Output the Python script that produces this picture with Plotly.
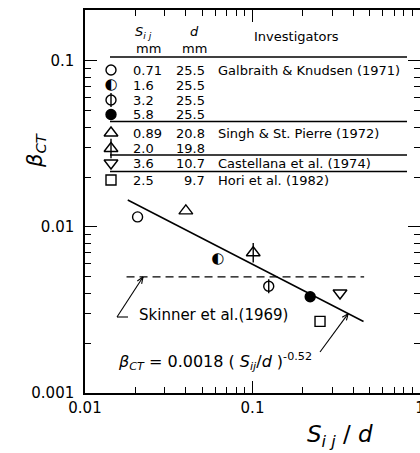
import math
import plotly.graph_objects as go

# ---------------- data ----------------
s_ij_mm = ["0.71", "1.6", "3.2", "5.8", "0.89", "2.0", "3.6", "2.5"]
d_mm = ["25.5", "25.5", "25.5", "25.5", "20.8", "19.8", "10.7", "9.7"]
investigators = ["Galbraith & Knudsen (1971)", "", "", "",
                 "Singh & St. Pierre (1972)", "",
                 "Castellana et al. (1974)", "Hori et al. (1982)"]
s_over_d = [0.0206, 0.062, 0.125, 0.221, 0.040, 0.101, 0.333, 0.253]
beta_ct = [0.0115, 0.0064, 0.0044, 0.0038, 0.0125, 0.0070, 0.0040, 0.0027]

fit_coef = 0.0018
fit_exp = -0.52
fit_x = [0.018, 0.46]
skinner_beta = 0.005
skinner_x = [0.0177, 0.464]

x_tick_vals = [0.01, 0.1, 1]
x_tick_text = ["0.01", "0.1", "1"]
y_tick_vals = [0.001, 0.01, 0.1]
y_tick_text = ["0.001", "0.01", "0.1"]

# ---------------- geometry (page pixels; body margin removed via post_script) ----------------
FIG_W, FIG_H = 420, 453
M_L, M_R, M_T, M_B = 85, 0, 10, 60
X_RANGE = [-2, 0]
Y_RANGE = [-3, -0.693]
PL, PR = M_L, FIG_W - M_R
PT, PB = M_T, FIG_H - M_B


def to_px(x, y):
    px = PL + (math.log10(x) - X_RANGE[0]) / (X_RANGE[1] - X_RANGE[0]) * (PR - PL)
    py = PB - (math.log10(y) - Y_RANGE[0]) / (Y_RANGE[1] - Y_RANGE[0]) * (PB - PT)
    return px, py


def to_paper(px, py):
    return (px - PL) / (PR - PL), (PB - py) / (PB - PT)


# ---------------- styles ----------------
FONT = "DejaVu Sans"
BLACK = "black"
styles = [
    dict(symbol="circle-open", size=10),
    dict(glyph="\u25D0", size=15),
    dict(symbol="circle-open", size=10, bar=10),
    dict(symbol="circle", size=10),
    dict(symbol="triangle-up-open", size=12),
    dict(symbol="triangle-up-open", size=12, bar=14),
    dict(symbol="triangle-down-open", size=12),
    dict(symbol="square-open", size=10),
]

fig = go.Figure()


def add_mark(x, y, st, xa="x", ya="y"):
    if "glyph" in st:
        fig.add_trace(go.Scatter(x=x, y=y, mode="text", text=[st["glyph"]] * len(x),
                                 textposition="middle center",
                                 textfont=dict(family=FONT, size=st["size"], color=BLACK),
                                 xaxis=xa, yaxis=ya, showlegend=False, hoverinfo="skip"))
        return
    fig.add_trace(go.Scatter(x=x, y=y, mode="markers",
                             marker=dict(symbol=st["symbol"], size=st["size"], color=BLACK,
                                         line=dict(color=BLACK, width=1.4)),
                             xaxis=xa, yaxis=ya, showlegend=False, hoverinfo="skip"))
    if st.get("bar"):
        fig.add_trace(go.Scatter(x=x, y=y, mode="markers",
                                 marker=dict(symbol="line-ns-open", size=st["bar"], color=BLACK,
                                             line=dict(color=BLACK, width=1.4)),
                                 xaxis=xa, yaxis=ya, showlegend=False, hoverinfo="skip"))


# fitted line
fig.add_trace(go.Scatter(x=fit_x, y=[fit_coef * v ** fit_exp for v in fit_x], mode="lines",
                         line=dict(color=BLACK, width=1.5), showlegend=False, hoverinfo="skip"))
# Skinner et al. line
fig.add_trace(go.Scatter(x=skinner_x, y=[skinner_beta] * 2, mode="lines",
                         line=dict(color=BLACK, width=1.3, dash="8px,5px"),
                         showlegend=False, hoverinfo="skip"))

for i, st in enumerate(styles):
    add_mark([s_over_d[i]], [beta_ct[i]], st)

# ---------------- legend table (page-pixel overlay axes) ----------------
row_y = [70, 85, 100, 114.5, 133, 148.5, 163, 180]
sym_x, sij_x, d_x, inv_x = 111, 131, 207, 216
rule_y = [57, 121.5, 155, 171.5]
rule_x = [110, 407]

for i, st in enumerate(styles):
    add_mark([sym_x], [row_y[i]], st, "x2", "y2")

annotations = []
tfont = dict(family=FONT, size=13, color=BLACK)
for i in range(len(s_ij_mm)):
    annotations.append(dict(x=sij_x, y=row_y[i], xref="x2", yref="y2", text=s_ij_mm[i],
                            showarrow=False, xanchor="left", yanchor="middle", font=tfont))
    annotations.append(dict(x=d_x, y=row_y[i], xref="x2", yref="y2", text=d_mm[i],
                            showarrow=False, xanchor="right", yanchor="middle", font=tfont))
    if investigators[i]:
        annotations.append(dict(x=inv_x, y=row_y[i], xref="x2", yref="y2", text=investigators[i],
                                showarrow=False, xanchor="left", yanchor="middle", font=tfont))
# header
annotations += [
    dict(x=143, y=32, xref="x2", yref="y2", text="<i>S</i><sub><i>i j</i></sub>", showarrow=False, font=tfont),
    dict(x=148, y=48, xref="x2", yref="y2", text="mm", showarrow=False, font=tfont),
    dict(x=194, y=31, xref="x2", yref="y2", text="<i>d</i>", showarrow=False, font=tfont),
    dict(x=194, y=48, xref="x2", yref="y2", text="mm", showarrow=False, font=tfont),
    dict(x=296, y=36, xref="x2", yref="y2", text="Investigators", showarrow=False, font=tfont),
]

shapes = [dict(type="line", xref="x2", yref="y2", x0=rule_x[0], x1=rule_x[1], y0=ry, y1=ry,
               line=dict(color=BLACK, width=1.3)) for ry in rule_y]


def leader(tail, tip, hook=None):
    """Line with an open V arrowhead at tip (page-pixel coordinates)."""
    out = [dict(type="line", xref="x2", yref="y2", x0=tail[0], y0=tail[1], x1=tip[0], y1=tip[1],
                line=dict(color=BLACK, width=1.1))]
    ang = math.atan2(tail[1] - tip[1], tail[0] - tip[0])
    for da in (0.38, -0.38):
        out.append(dict(type="line", xref="x2", yref="y2", x0=tip[0], y0=tip[1],
                        x1=tip[0] + 7 * math.cos(ang + da), y1=tip[1] + 7 * math.sin(ang + da),
                        line=dict(color=BLACK, width=1.1)))
    if hook:
        out.append(dict(type="line", xref="x2", yref="y2", x0=tail[0], y0=tail[1],
                        x1=tail[0] + hook, y1=tail[1], line=dict(color=BLACK, width=1.1)))
    return out


# Skinner label and leader
annotations.append(dict(x=137, y=315, xref="x2", yref="y2", text="Skinner et al.(1969)",
                        showarrow=False, xanchor="left", yanchor="middle",
                        font=dict(family=FONT, size=15, color=BLACK)))
shapes += leader((117, 317), to_px(0.0222, skinner_beta), hook=11)

# equation and leader
annotations.append(dict(x=116, y=361, xref="x2", yref="y2",
                        text="<i>β</i><sub><i>CT</i></sub> = 0.0018 ( <i>S</i><sub><i>ij</i></sub>/<i>d</i> )<sup>-0.52</sup>",
                        showarrow=False, xanchor="left", yanchor="middle",
                        font=dict(family=FONT, size=16, color=BLACK)))
tip_x = 0.3726
shapes += leader((320, 352), to_px(tip_x, fit_coef * tip_x ** fit_exp))

# axis titles
yt = to_paper(36, 150)
annotations.append(dict(x=yt[0], y=yt[1], xref="paper", yref="paper",
                        text="<i>β</i><sub><i>CT</i></sub>", textangle=-90, showarrow=False,
                        xanchor="center", yanchor="middle",
                        font=dict(family=FONT, size=21, color=BLACK)))
xt = to_paper(340, 436)
annotations.append(dict(x=xt[0], y=xt[1], xref="paper", yref="paper",
                        text="<i>S</i><sub><i>i j</i></sub> / <i>d</i>", showarrow=False,
                        xanchor="center", yanchor="middle",
                        font=dict(family=FONT, size=23, color=BLACK)))

axis_common = dict(type="log", showline=True, linecolor=BLACK, linewidth=1.5, mirror="allticks",
                   ticks="inside", ticklen=12, tickwidth=1.2, tickcolor=BLACK,
                   showgrid=False, zeroline=False, automargin=False, ticklabeloverflow="allow",
                   tickfont=dict(family=FONT, size=15, color=BLACK))

minor_x = [m * 10 ** e for e in (-2, -1) for m in range(2, 10)]
minor_y = [m * 10 ** e for e in (-3, -2, -1) for m in range(2, 10)]

fig.update_layout(
    width=FIG_W, height=FIG_H,
    margin=dict(l=M_L, r=M_R, t=M_T, b=M_B),
    plot_bgcolor="white", paper_bgcolor="white",
    showlegend=False,
    xaxis=dict(axis_common, range=X_RANGE, tickvals=x_tick_vals, ticktext=x_tick_text,
               minor=dict(tickvals=minor_x, ticks="inside", ticklen=6, tickwidth=1, tickcolor=BLACK)),
    yaxis=dict(axis_common, range=Y_RANGE, tickvals=y_tick_vals, ticktext=y_tick_text,
               ticklabelstandoff=6,
               minor=dict(tickvals=minor_y, ticks="inside", ticklen=6, tickwidth=1, tickcolor=BLACK)),
    xaxis2=dict(overlaying="x", range=[PL, PR], visible=False, anchor="y2"),
    yaxis2=dict(overlaying="y", range=[PB, PT], visible=False, anchor="x2"),
    annotations=annotations,
    shapes=shapes,
)

fig.write_html("out.html", config={"displayModeBar": False},
               post_script="document.body.style.margin='0';document.body.style.overflow='hidden';")
